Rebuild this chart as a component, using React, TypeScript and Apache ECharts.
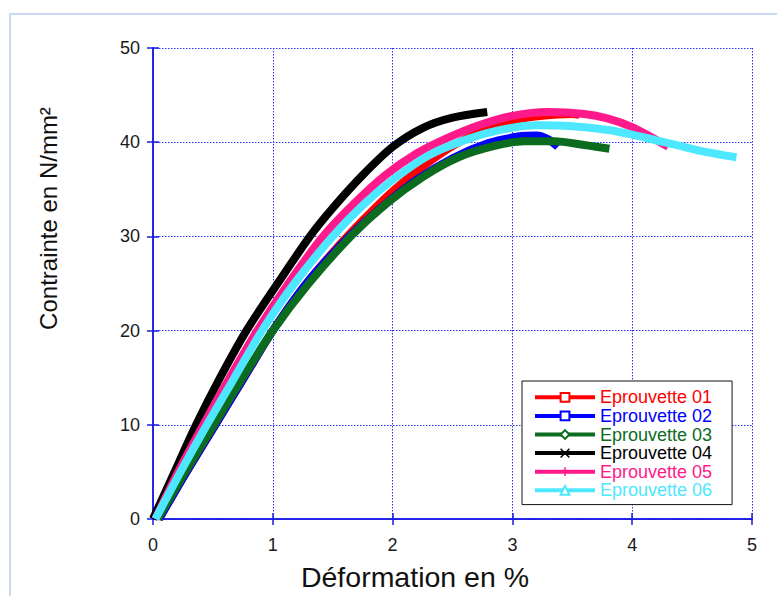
import React, { useEffect, useRef } from "react";
import * as echarts from "echarts";

const seriesNames = ["Eprouvette 01", "Eprouvette 02", "Eprouvette 03", "Eprouvette 04", "Eprouvette 05", "Eprouvette 06"];
const seriesColors = ["#ff0000", "#0000ff", "#0b6b1e", "#000000", "#ff1a8c", "#4de8ff"];

const xTicks = [0, 1, 2, 3, 4, 5];
const yTicks = [0, 10, 20, 30, 40, 50];

const ep01: [number, number][] = [[0.05, 0], [0.28, 5], [0.52, 10], [0.76, 15], [1.0, 20], [1.25, 24.5], [1.5, 28.3], [1.75, 31.7], [2.0, 34.8], [2.25, 37.4], [2.5, 39.6], [2.75, 41.2], [3.0, 42.3], [3.25, 42.8], [3.5, 43.0], [3.56, 42.9]];
const ep02: [number, number][] = [[0.05, 0], [0.28, 5], [0.52, 10], [0.76, 15], [1.0, 20], [1.28, 25], [1.6, 29.5], [1.9, 33], [2.2, 36], [2.5, 38.3], [2.8, 39.9], [3.05, 40.6], [3.2, 40.7], [3.3, 40.3], [3.38, 39.5]];
const ep03: [number, number][] = [[0.04, 0], [0.27, 5], [0.51, 10], [0.75, 15], [1.0, 20], [1.3, 25], [1.65, 30], [1.95, 33.5], [2.25, 36.3], [2.55, 38.4], [2.85, 39.6], [3.1, 40.1], [3.35, 40.1], [3.6, 39.7], [3.81, 39.3]];
const ep04: [number, number][] = [[0, 0], [0.18, 5], [0.36, 10], [0.56, 15], [0.78, 20], [1.04, 25], [1.31, 30], [1.5, 33], [1.75, 36.5], [2.0, 39.5], [2.25, 41.5], [2.5, 42.6], [2.79, 43.2]];
const ep05: [number, number][] = [[0.02, 0], [0.21, 5], [0.42, 10], [0.64, 15], [0.87, 20], [1.13, 25], [1.42, 30], [1.68, 33.5], [1.94, 36.5], [2.2, 38.8], [2.45, 40.4], [2.72, 41.8], [3.0, 42.8], [3.3, 43.2], [3.6, 43.0], [3.8, 42.5], [4.0, 41.6], [4.15, 40.6], [4.3, 39.5]];
const ep06: [number, number][] = [[0.02, 0], [0.23, 5], [0.45, 10], [0.68, 15], [0.91, 20], [1.18, 25], [1.5, 30], [1.75, 33.3], [2.0, 36], [2.3, 38.6], [2.62, 40.3], [2.9, 41.3], [3.2, 41.8], [3.5, 41.7], [3.8, 41.3], [4.0, 40.8], [4.2, 40.2], [4.4, 39.6], [4.6, 39.0], [4.87, 38.4]];

const allData = [ep01, ep02, ep03, ep04, ep05, ep06];

const crossPath = "path://M0,0L10,10M10,0L0,10";
const plusPath = "path://M0,0L0.01,0M9.99,0L10,0M5,0L5,10";
const symbols = ["emptyRect", "emptyRect", "emptyDiamond", crossPath, plusPath, "emptyTriangle"];

const FONT = "'Liberation Sans', Arial, sans-serif";
const BLUE = "#1a1ae6";
const GRIDBLUE = "#3030ff";

export default function App() {
  const ref = useRef<HTMLDivElement>(null);
  useEffect(() => {
    if (!ref.current) return;
    const chart = echarts.init(ref.current, undefined, { renderer: "svg" });
    chart.setOption({
      animation: false,
      backgroundColor: "#ffffff",
      graphic: [
        {
          type: "rect",
          shape: { x: 10, y: 14, width: 900, height: 700 },
          style: { fill: "none", stroke: "#c9d9ee", lineWidth: 2 },
          silent: true,
          z: -10,
        },
      ],
      grid: { left: 153, right: 25, top: 48, bottom: 73, containLabel: false },
      legend: {
        left: 522,
        top: 381,
        orient: "vertical",
        backgroundColor: "#ffffff",
        borderColor: "#111111",
        borderWidth: 1,
        padding: [7, 20, 5, 11],
        itemWidth: 60,
        itemHeight: 11,
        itemGap: 0,
        lineStyle: { width: 4 },
        itemStyle: { borderWidth: 1.5 },
        textStyle: { fontFamily: FONT, fontSize: 18, lineHeight: 18.6 },
        data: seriesNames.map((n, i) => ({ name: n, textStyle: { color: seriesColors[i] } })),
      },
      xAxis: [
        {
          type: "value",
          min: 0,
          max: 5,
          interval: 1,
          name: "Déformation en %",
          nameLocation: "middle",
          nameGap: 43,
          nameTextStyle: { fontFamily: FONT, fontSize: 28.5, color: "#111", padding: [0, 75, 0, 0] },
          axisLine: { show: true, lineStyle: { color: BLUE, width: 1.5 } },
          axisTick: { show: true, inside: true, length: 6, lineStyle: { color: BLUE, width: 1.5 } },
          axisLabel: { fontFamily: FONT, fontSize: 18, color: "#1a1a1a", margin: 17, formatter: (v: number) => (xTicks.includes(v) ? String(v) : "") },
          splitLine: { show: true, lineStyle: { color: GRIDBLUE, type: [1.5, 1.5], width: 1 } },
        },
        {
          type: "value",
          min: 0,
          max: 5,
          interval: 1,
          position: "top",
          axisLine: { show: true, lineStyle: { color: BLUE, width: 1.5 } },
          axisTick: { show: true, inside: true, length: 6, lineStyle: { color: BLUE, width: 1.5 } },
          axisLabel: { show: false },
          splitLine: { show: false },
        },
      ],
      yAxis: [
        {
          type: "value",
          min: 0,
          max: 50,
          interval: 10,
          name: "Contrainte en N/mm²",
          nameLocation: "middle",
          nameGap: 93,
          nameRotate: 90,
          nameTextStyle: { fontFamily: FONT, fontSize: 24, color: "#111", padding: [0, 0, 0, 130] },
          axisLine: { show: true, lineStyle: { color: BLUE, width: 1.5 } },
          axisTick: { show: true, inside: true, length: 6, lineStyle: { color: BLUE, width: 1.5 } },
          axisLabel: { fontFamily: FONT, fontSize: 18, color: "#1a1a1a", margin: 13, formatter: (v: number) => (yTicks.includes(v) ? String(v) : "") },
          splitLine: { show: true, lineStyle: { color: GRIDBLUE, type: [1.5, 1.5], width: 1 } },
        },
        {
          type: "value",
          min: 0,
          max: 50,
          interval: 10,
          position: "right",
          axisLine: { show: true, lineStyle: { color: BLUE, width: 1.5 } },
          axisTick: { show: true, inside: true, length: 6, lineStyle: { color: BLUE, width: 1.5 } },
          axisLabel: { show: false },
          splitLine: { show: false },
        },
      ],
      series: allData.map((d, i) => ({
        name: seriesNames[i],
        type: "line",
        xAxisIndex: 0,
        yAxisIndex: 0,
        data: d,
        smooth: 0.3,
        showSymbol: false,
        symbol: symbols[i],
        symbolSize: 9,
        color: seriesColors[i],
        lineStyle: { color: seriesColors[i], width: 8 },
        itemStyle: { color: seriesColors[i], borderColor: seriesColors[i], borderWidth: 1.5 },
        z: 2 + i,
      })),
    });
    return () => chart.dispose();
  }, []);
  return <div ref={ref} style={{ position: "fixed", left: 0, top: 0, width: 777, height: 596 }} />;
}
